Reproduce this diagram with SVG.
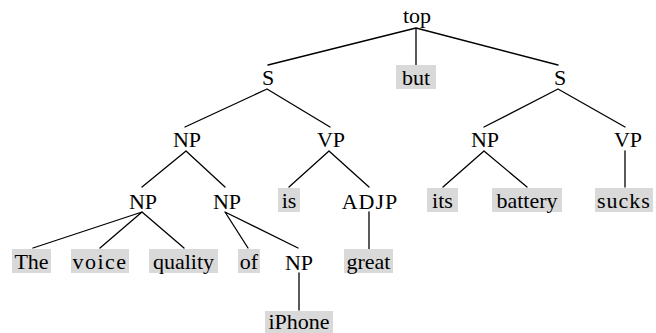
<svg xmlns="http://www.w3.org/2000/svg" width="656" height="333" viewBox="0 0 656 333">
  <style>
    .lbl { font-size: 22px; fill: #000; text-anchor: middle; }
    .leaf { fill: #d9d9d9; }
    .edge { stroke: #000; stroke-width: 1.3; fill: none; stroke-linecap: round; }
  </style>
  <rect width="656" height="333" fill="#fff"/>

  <!-- tree edges -->
  <g id="edges">
    <path class="edge" d="M416,28 L268,65 M416,28 L416,65 M416,28 L558,65"/>
    <path class="edge" d="M267,89 L185,127 M267,89 L330,127"/>
    <path class="edge" d="M558,89 L484,127 M558,89 L625,127"/>
    <path class="edge" d="M186,151 L142,187 M186,151 L225,187"/>
    <path class="edge" d="M329,151 L289,187 M329,151 L369,187"/>
    <path class="edge" d="M484,151 L443,187 M484,151 L527,187"/>
    <path class="edge" d="M625,151 L625,187"/>
    <path class="edge" d="M142,212 L33,248 M142,212 L100,248 M142,212 L184,248"/>
    <path class="edge" d="M225,212 L248,248 M225,212 L298,248"/>
    <path class="edge" d="M369,212 L369,249"/>
    <path class="edge" d="M299,273 L299,310"/>
  </g>

  <g font-family="Liberation Serif, DejaVu Serif, serif">
  <!-- phrase nodes -->
  <g id="n-top"><text class="lbl" x="417" y="23">top</text></g>
  <g id="n-s1"><text class="lbl" x="268" y="85">S</text></g>
  <g id="n-s2"><text class="lbl" x="560" y="85">S</text></g>
  <g id="n-np1"><text class="lbl" x="187" y="147">NP</text></g>
  <g id="n-vp1"><text class="lbl" x="331" y="147">VP</text></g>
  <g id="n-np2"><text class="lbl" x="485" y="147">NP</text></g>
  <g id="n-vp2"><text class="lbl" x="628" y="147">VP</text></g>
  <g id="n-np3"><text class="lbl" x="143" y="209">NP</text></g>
  <g id="n-np4"><text class="lbl" x="227" y="209">NP</text></g>
  <g id="n-adjp"><text class="lbl" x="370" y="209" letter-spacing="1">ADJP</text></g>
  <g id="n-np5"><text class="lbl" x="299" y="270">NP</text></g>

  <!-- word leaves -->
  <g id="w-but"><rect class="leaf" x="396" y="65" width="40" height="24"/><text class="lbl" x="416" y="85">but</text></g>
  <g id="w-is"><rect class="leaf" x="278" y="188" width="22" height="24"/><text class="lbl" x="289" y="208">is</text></g>
  <g id="w-its"><rect class="leaf" x="427" y="188" width="31" height="24"/><text class="lbl" x="442.5" y="208">its</text></g>
  <g id="w-battery"><rect class="leaf" x="492" y="188" width="70" height="24"/><text class="lbl" x="527" y="208">battery</text></g>
  <g id="w-sucks"><rect class="leaf" x="595" y="188" width="58" height="24"/><text class="lbl" x="624" y="208" letter-spacing="1">sucks</text></g>
  <g id="w-the"><rect class="leaf" x="12" y="249" width="39" height="24"/><text class="lbl" x="31.5" y="269">The</text></g>
  <g id="w-voice"><rect class="leaf" x="71" y="249" width="58" height="24"/><text class="lbl" x="100" y="269" letter-spacing="1.5">voice</text></g>
  <g id="w-quality"><rect class="leaf" x="149" y="249" width="69" height="24"/><text class="lbl" x="183.5" y="269">quality</text></g>
  <g id="w-of"><rect class="leaf" x="238" y="249" width="22" height="24"/><text class="lbl" x="249" y="269">of</text></g>
  <g id="w-great"><rect class="leaf" x="344" y="249" width="49" height="24"/><text class="lbl" x="368.5" y="269">great</text></g>
  <g id="w-iphone"><rect class="leaf" x="265" y="311" width="68" height="22"/><text class="lbl" x="299" y="329">iPhone</text></g>
  </g>
</svg>
